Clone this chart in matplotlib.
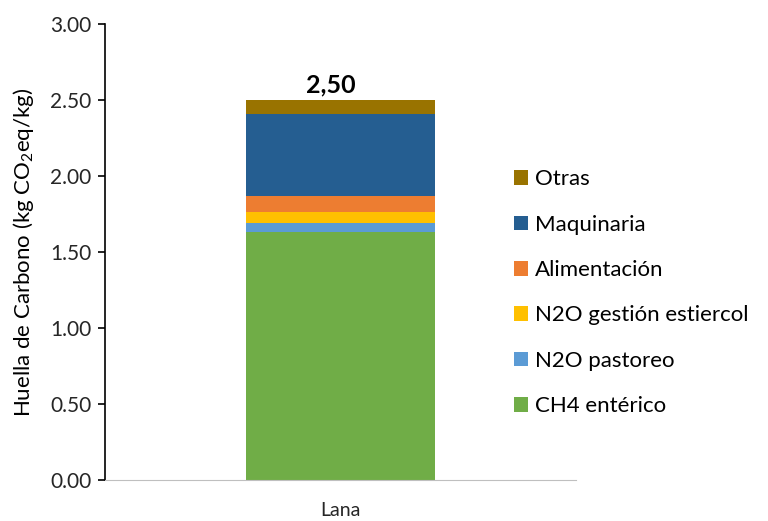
import numpy as np
import matplotlib.pyplot as plt

plt.rcParams['font.family'] = ['Lato', 'DejaVu Sans']
plt.rcParams['mathtext.fontset'] = 'custom'
plt.rcParams['mathtext.rm'] = 'Lato'
plt.rcParams['mathtext.it'] = 'Lato'

category = ['Lana']
labels = ['CH4 entérico', 'N2O pastoreo', 'N2O gestión estiercol',
          'Alimentación', 'Maquinaria', 'Otras']
values = [1.63, 0.06, 0.075, 0.10, 0.545, 0.09]
colors = ['#70AD47', '#5B9BD5', '#FFC000', '#ED7D31', '#255E91', '#997300']
total = 2.50

fig = plt.figure(figsize=(7.68, 5.21), dpi=100)
ax = fig.add_axes([0.137, 0.079, 0.613, 0.875])

x = np.arange(len(category))
bottom = 0.0
for lab, val, col in zip(labels, values, colors):
    ax.bar(x, [val], width=0.4, bottom=bottom, color=col, label=lab)
    bottom += val

ax.text(x[0] - 0.02, total + 0.02, ('%.2f' % total).replace('.', ','),
        ha='center', va='bottom', fontsize=18, fontweight='bold')

ax.set_xlim(-0.5, 0.5)
ax.set_ylim(0, 3.0)
yt = np.arange(0, 3.01, 0.5)
ax.set_yticks(yt)
ax.set_yticklabels(['%.2f' % v for v in yt], fontsize=15, color='#262626')
ax.set_xticks(x)
ax.set_xticklabels(category, fontsize=14, color='#262626')
ax.tick_params(axis='x', length=0, pad=16)
ax.tick_params(axis='y', direction='out', length=5, width=1.2, pad=5)
ax.set_ylabel(r'Huella de Carbono (kg CO$_2$eq/kg)', fontsize=16, labelpad=10)

for s in ['top', 'right']:
    ax.spines[s].set_visible(False)
ax.spines['left'].set_linewidth(1.2)
ax.spines['bottom'].set_color('#bfbfbf')

h, l = ax.get_legend_handles_labels()
fig.legend(h[::-1], l[::-1], loc='center left', bbox_to_anchor=(0.643, 0.438),
           frameon=False, fontsize=16, labelspacing=1.14,
           handlelength=0.65, handleheight=0.65, handletextpad=0.3)

fig.savefig('out.png', dpi=100)
